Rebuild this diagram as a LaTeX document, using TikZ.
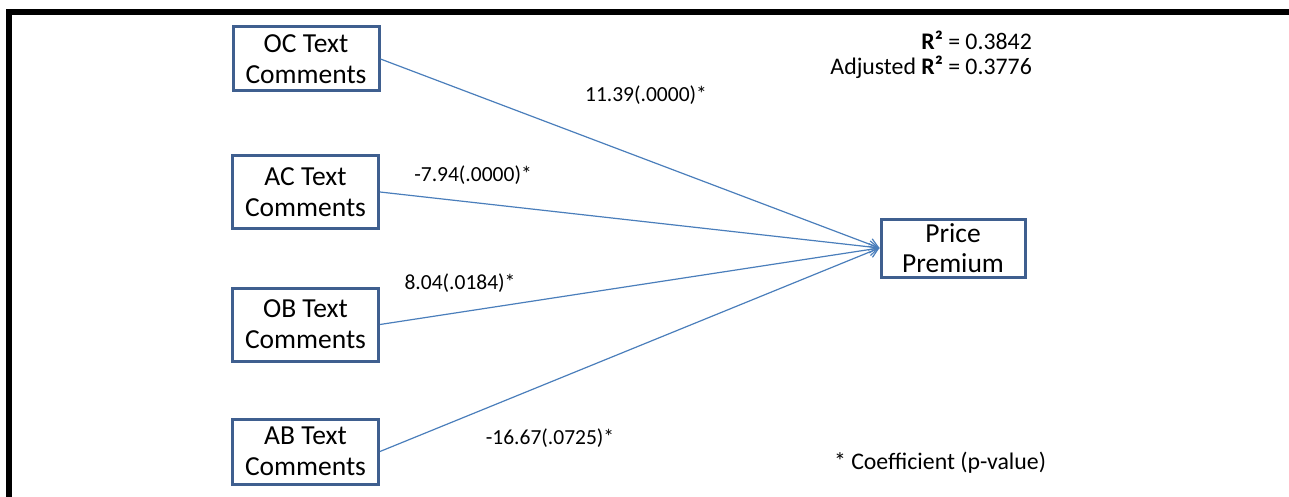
\documentclass[tikz,border=0pt]{standalone}
\usepackage{fontspec}
\setmainfont{Carlito}
\usetikzlibrary{arrows.meta}
\definecolor{boxblue}{HTML}{3F5F8F}
\definecolor{lineblue}{HTML}{4A7EBB}
\tikzset{
  varbox/.style={draw=boxblue, line width=3pt, fill=white, minimum width=146pt, inner sep=0pt, align=center, font=\fontsize{27.5}{31}\selectfont},
  conn/.style={draw=lineblue, line width=1.2pt, -{Straight Barb[length=9pt,width=12pt,line width=1.2pt]}},
  coef/.style={font=\fontsize{21.5}{26}\selectfont, inner sep=0pt},
  bigtext/.style={font=\fontsize{23.8}{28}\selectfont, inner sep=0pt},
}
\begin{document}
\begin{tikzpicture}[x=1pt,y=-1pt]
\useasboundingbox (0,0) rectangle (1289,497);
\fill[black] (6,9) rectangle (1289,15);
\fill[black] (6,9) rectangle (12,497);
\node[varbox, minimum height=64pt] (oc) at (306,59) {OC Text\\Comments};
\node[varbox, minimum height=72pt] (ac) at (305.5,192) {AC Text\\Comments};
\node[varbox, minimum height=73pt] (ob) at (305.5,324.5) {OB Text\\Comments};
\node[varbox, minimum height=65pt] (ab) at (305.5,451.5) {AB Text\\Comments};
\node[varbox, minimum width=144pt, minimum height=58pt, font=\fontsize{27.5}{30}\selectfont] (pp) at (953,248) {Price\\Premium};
\draw[conn] (oc.east) -- (pp.west);
\draw[conn] (ac.east) -- (pp.west);
\draw[conn] (ob.east) -- (pp.west);
\draw[conn] (ab.east) -- (pp.west);
\node[coef] (l1) at (646,95) {11.39(.0000)*};
\node[coef] (l2) at (473,175) {-7.94(.0000)*};
\node[coef] (l3) at (460,283) {8.04(.0184)*};
\node[coef] (l4) at (550,438) {-16.67(.0725)*};
\node[bigtext, anchor=east] (r1) at (1032,40) {\textbf{R²} = 0.3842};
\node[bigtext, anchor=east] (r2) at (1032,67) {Adjusted \textbf{R²} = 0.3776};
\node[bigtext] (note) at (940,463) {* Coefficient (p-value)};
\end{tikzpicture}
\end{document}
